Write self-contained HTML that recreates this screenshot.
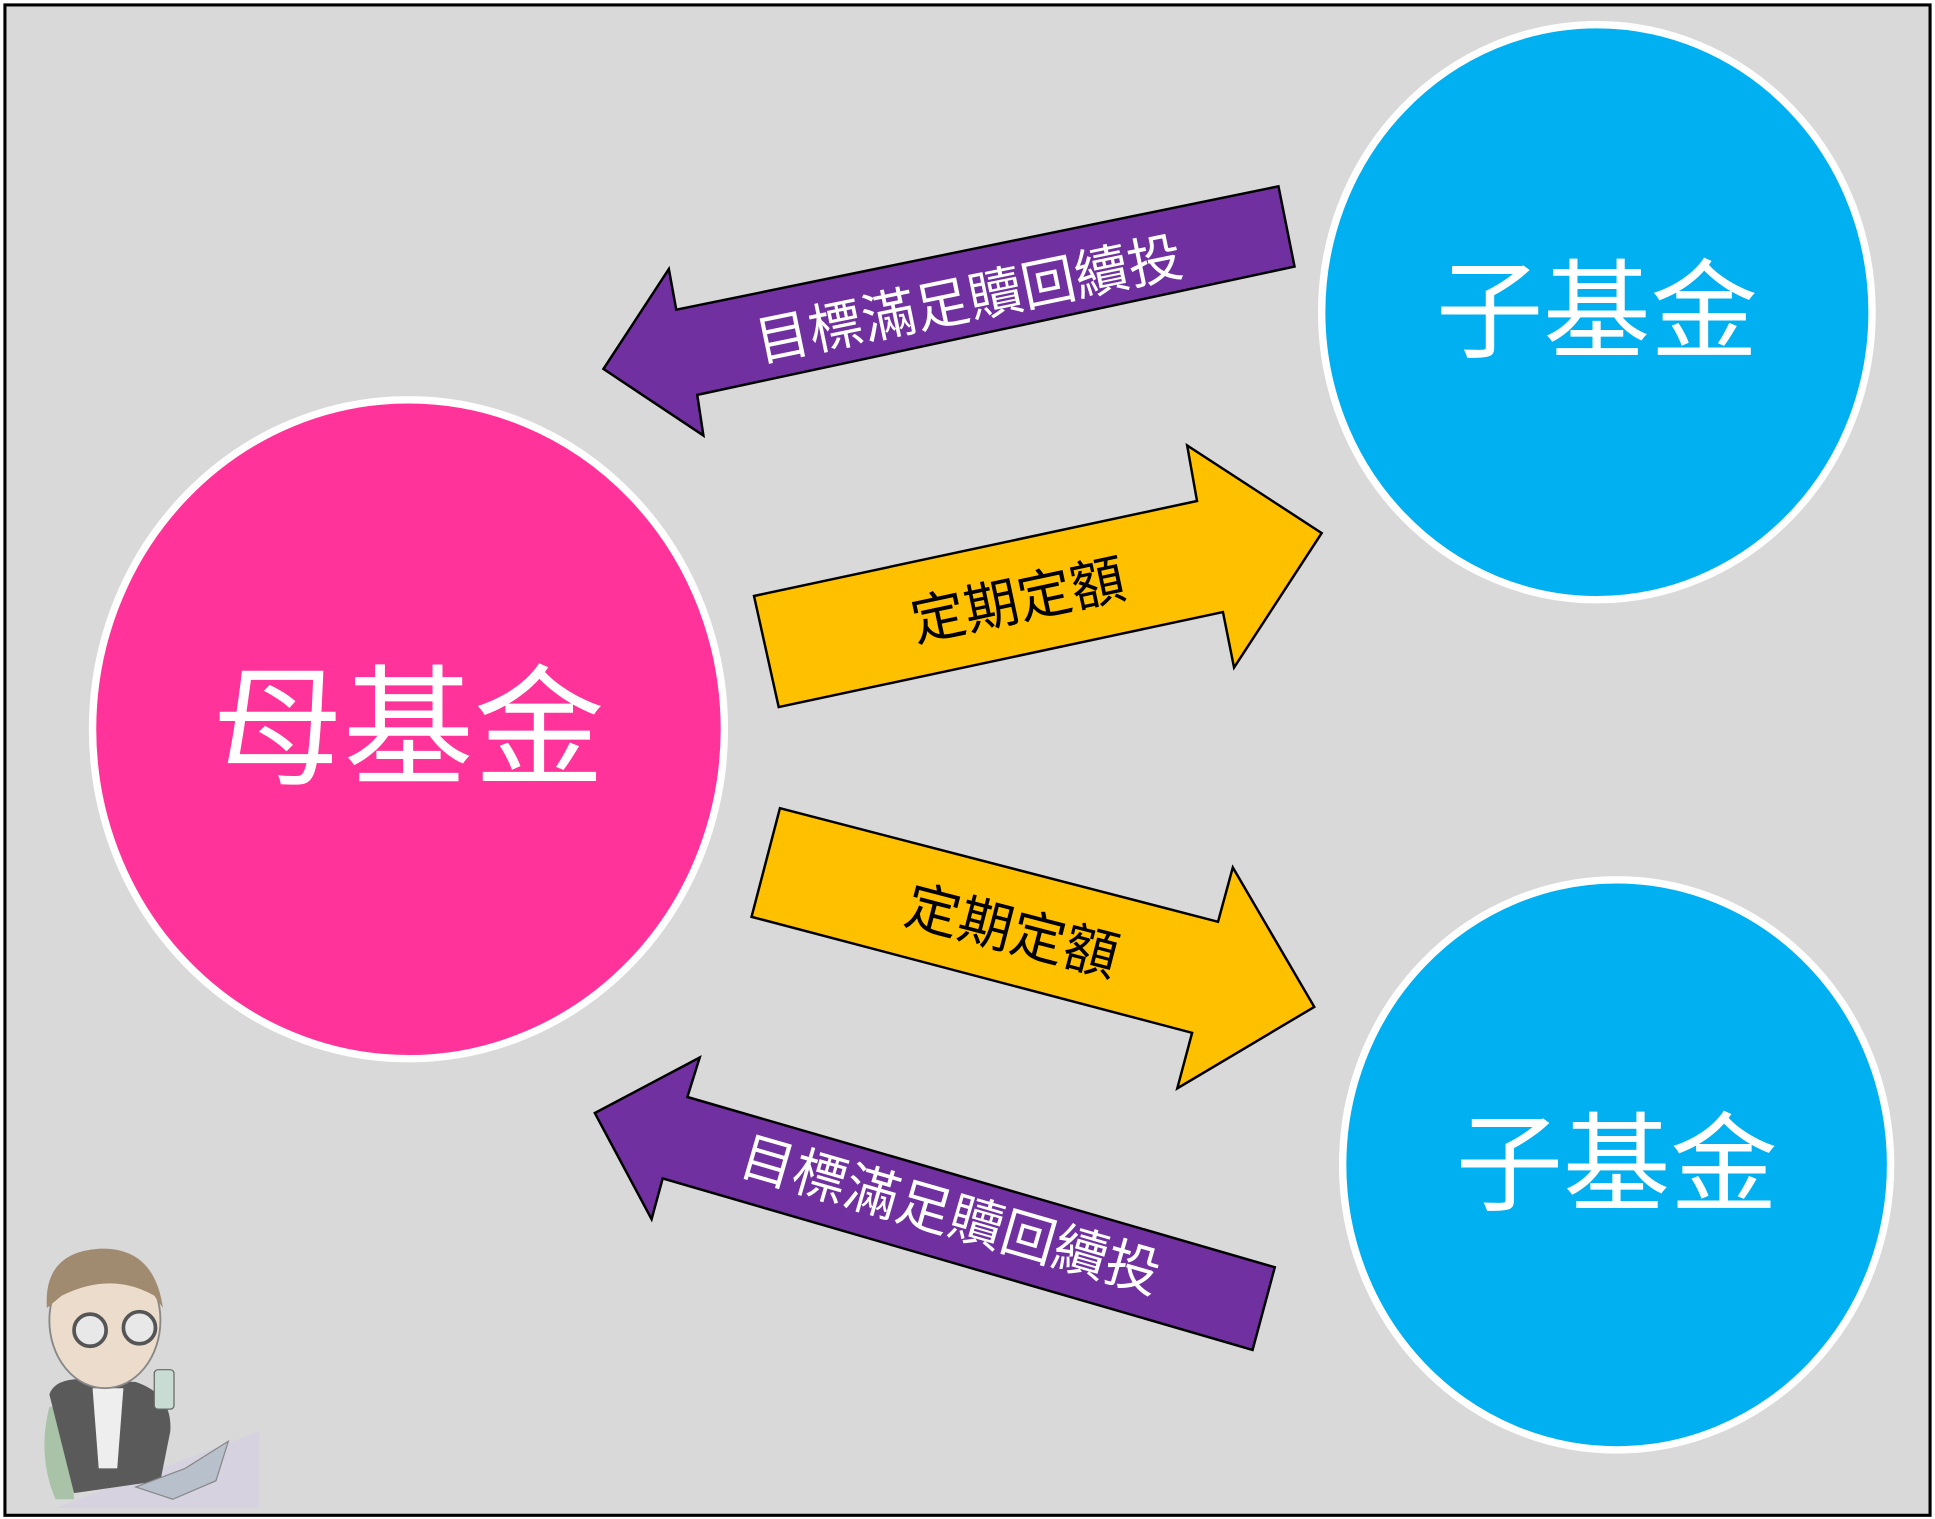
<!DOCTYPE html>
<html><head><meta charset="utf-8"><style>
html,body{margin:0;padding:0;background:#fff;}
svg{display:block}
</style></head><body>
<svg width="1935" height="1519" viewBox="0 0 1568 1231" preserveAspectRatio="none" xmlns="http://www.w3.org/2000/svg">
<rect x="4" y="4" width="1560" height="1224" fill="#d9d9d9" stroke="#000" stroke-width="2.5"/>
<!-- mascot (simplified) -->
<polygon points="45,1222 210,1160 210,1222" fill="#d6d2e0"/>
<path d="M40,1140 Q30,1180 45,1215 L60,1215 L55,1140Z" fill="#a9c3a9"/>
<path d="M40,1130 Q45,1115 75,1118 L110,1120 Q140,1130 138,1160 L130,1200 L60,1210 Z" fill="#5a5a5a"/>
<path d="M75,1125 L100,1125 L95,1190 L80,1190Z" fill="#eeeeee"/>
<ellipse cx="85" cy="1070" rx="45" ry="55" fill="#ecdccc" stroke="#888" stroke-width="1.5"/>
<path d="M38,1060 Q35,1015 80,1012 Q125,1010 132,1060 L125,1050 Q90,1030 50,1050 Z" fill="#a08a70"/>
<circle cx="73" cy="1078" r="13" fill="#e8e8e8" stroke="#555" stroke-width="3"/>
<circle cx="113" cy="1076" r="13" fill="#e8e8e8" stroke="#555" stroke-width="3"/>
<rect x="125" y="1110" width="16" height="32" rx="3" fill="#c8dcd4" stroke="#666"/>
<polygon points="110,1205 150,1190 185,1168 175,1200 140,1215" fill="#b8c0cc" stroke="#888"/>
<!-- circles -->
<ellipse cx="331" cy="591" rx="256" ry="267" fill="#FF3399" stroke="#fff" stroke-width="6"/>
<ellipse cx="1294" cy="253" rx="223" ry="233" fill="#00B0F0" stroke="#fff" stroke-width="6"/>
<ellipse cx="1310" cy="944" rx="222" ry="231" fill="#00B0F0" stroke="#fff" stroke-width="6"/>
<!-- arrows -->
<polygon points="1036,151 1049,216 565,320 570,353 489,299 542,218 548,251" fill="#7030A0" stroke="#000" stroke-width="2"/>
<polygon points="611,483 970,406 962,361 1071,432 1000,541 991,496 631,573" fill="#FFC000" stroke="#000" stroke-width="2"/>
<polygon points="632,655 987,747 999,703 1065,816 954,882 966,837 609,743" fill="#FFC000" stroke="#000" stroke-width="2"/>
<polygon points="1033,1027 1015,1094 537,955 528,988 482,902 567,857 557,889" fill="#7030A0" stroke="#000" stroke-width="2"/>
<!-- labels -->
<g font-family="'Liberation Sans','Noto Sans CJK TC',sans-serif" font-weight="400" fill="#fff" text-anchor="middle" dominant-baseline="central">
<text x="331" y="591" font-size="106">母基金</text>
<text x="1294" y="253" font-size="87">子基金</text>
<text x="1310" y="944" font-size="87">子基金</text>
</g>
<g font-family="'Liberation Sans','Noto Sans CJK TC',sans-serif" font-weight="400" text-anchor="middle" dominant-baseline="central" font-size="44">
<text transform="translate(785,243) rotate(-11.6)" fill="#fff">目標滿足贖回續投</text>
<text transform="translate(825,487) rotate(-12)" fill="#000">定期定額</text>
<text transform="translate(820,755) rotate(14.5)" fill="#000">定期定額</text>
<text transform="translate(770,985) rotate(16.2)" fill="#fff">目標滿足贖回續投</text>
</g>
</svg>
</body></html>
